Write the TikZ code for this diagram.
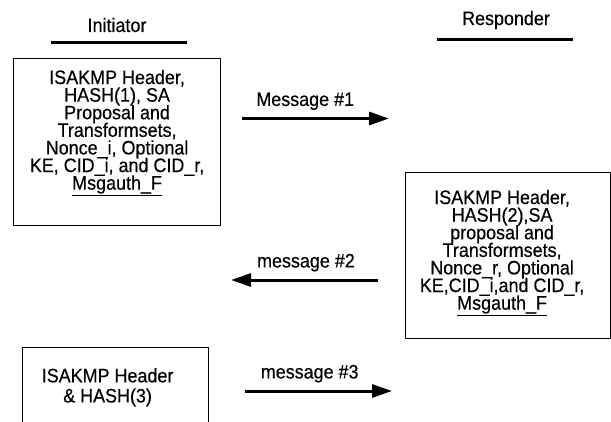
\documentclass[tikz,border=0pt]{standalone}
\usepackage{fontspec}
\setmainfont{Liberation Sans}[FakeStretch=0.92, FakeBold=0.4]
\usetikzlibrary{positioning, arrows.meta}

\begin{document}
\begin{tikzpicture}[x=1pt, y=-1pt,
		font={\fontsize{19.5}{17.6}\selectfont\lineskiplimit=-50pt},
		party/.style={inner sep=0pt},
		partyline/.style={line width=3pt},
		msgbox/.style={draw, line width=1.2pt, inner sep=0pt, anchor=north west},
		boxtext/.style={align=center, inner sep=0pt},
		msg/.style={line width=3pt, -{Triangle[length=20pt,width=13pt]}},
		msglabel/.style={above=7pt, inner sep=0pt}]
		\useasboundingbox (0,0) rectangle (611,421);
		\clip (0,0) rectangle (611,421);

		\node[party] (ini) at (117,25) {Initiator};
		\node[party] (res) at (506,20) {Responder};
		\draw[partyline] (51,42) -- (187,42);
		\draw[partyline] (437,39.5) -- (573,39.5);

		\node[msgbox, minimum width=207pt, minimum height=167pt] (b1) at (13,58) {};
		\node[boxtext, below=11.7pt of b1.north] (t1) {ISAKMP Header,\\HASH(1), SA\\Proposal and\\Transformsets,\\Nonce\_i, Optional\\KE, CID\_i, and CID\_r,\\\underline{Msgauth\_F}};

		\node[msgbox, minimum width=205pt, minimum height=166pt] (b2) at (405,172) {};
		\node[boxtext, below=17.7pt of b2.north, xshift=-6pt] (t2) {ISAKMP Header,\\HASH(2),SA\\proposal and\\Transformsets,\\Nonce\_r, Optional\\KE,CID\_i,and CID\_r,\\\underline{Msgauth\_F}};

		\node[msgbox, minimum width=186pt, minimum height=100pt] (b3) at (22,347) {};
		\node[boxtext, below=21pt of b3.north, xshift=-8pt] (t3) {ISAKMP Header\\[2.5pt]\& HASH(3)};

		\coordinate (m1s) at (242,118.5);
		\coordinate (m1e) at (389,118.5);
		\coordinate (m2s) at (378,280);
		\coordinate (m2e) at (231,280);
		\coordinate (m3s) at (245,391);
		\coordinate (m3e) at (392,391);

		\draw[msg] (m1s) -- node[msglabel, pos=0.43] (l1) {Message \#1} (m1e);
		\draw[msg] (m2s) -- node[msglabel, pos=0.49] (l2) {message \#2} (m2e);
		\draw[msg] (m3s) -- node[msglabel, pos=0.44] (l3) {message \#3} (m3e);
	\end{tikzpicture}
\end{document}
